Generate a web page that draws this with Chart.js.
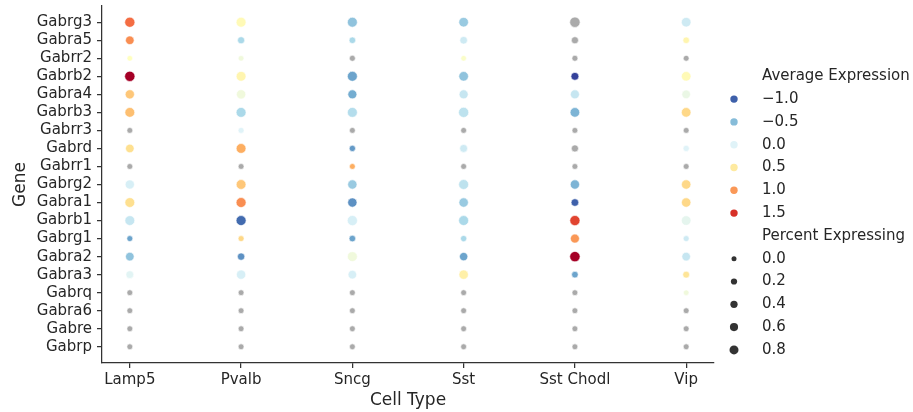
<!DOCTYPE html>
<html>
<head>
<meta charset="utf-8">
<script src="https://cdn.jsdelivr.net/npm/chart.js@4.4.0/dist/chart.umd.min.js"></script>
<style>
  html, body { margin: 0; padding: 0; background: #ffffff; }
  #wrap { width: 913px; height: 412px; position: relative; }
</style>
</head>
<body>
<div id="wrap"><canvas id="c" width="913" height="412"></canvas></div>
<script>
// ---------------- data ----------------
const cellTypes = ['Lamp5', 'Pvalb', 'Sncg', 'Sst', 'Sst Chodl', 'Vip'];
const genes = ['Gabrg3', 'Gabra5', 'Gabrr2', 'Gabrb2', 'Gabra4', 'Gabrb3', 'Gabrr3', 'Gabrd', 'Gabrr1',
               'Gabrg2', 'Gabra1', 'Gabrb1', 'Gabrg1', 'Gabra2', 'Gabra3', 'Gabrq', 'Gabra6', 'Gabre', 'Gabrp'];

// Average expression (null = no value, drawn grey), one array per cell type, in gene order
const exprLamp5    = [1.2, 1.05, 0.3, 1.8, 0.75, 0.8, null, 0.6, null, -0.05, 0.6, -0.15, -0.65, -0.45, 0.02, null, null, null, null];
const exprPvalb    = [0.35, -0.3, 0.15, 0.4, 0.15, -0.3, 0.0, 0.9, null, 0.75, 1.05, -0.95, 0.65, -0.75, -0.05, null, null, null, null];
const exprSncg     = [-0.45, -0.3, null, -0.65, -0.6, -0.25, null, -0.7, 0.9, -0.4, -0.75, -0.05, -0.65, 0.15, -0.05, null, null, null, null];
const exprSst      = [-0.4, -0.1, 0.25, -0.45, -0.15, -0.2, null, -0.1, null, -0.2, -0.4, -0.3, -0.3, -0.65, 0.45, null, null, null, null];
const exprSstChodl = [null, null, null, -1.15, -0.15, -0.55, null, null, null, -0.55, -1.0, 1.4, 1.0, 1.8, -0.65, null, null, null, null];
const exprVip      = [-0.1, 0.4, null, 0.35, 0.1, 0.65, null, 0.0, null, 0.65, 0.65, 0.05, -0.1, -0.15, 0.55, 0.15, null, null, null];

// Percent expressing, one array per cell type, in gene order
const pctLamp5    = [0.95, 0.55, 0.0, 0.98, 0.7, 0.85, 0.03, 0.55, 0.03, 0.7, 0.85, 0.85, 0.05, 0.55, 0.4, 0.03, 0.03, 0.03, 0.03];
const pctPvalb    = [0.88, 0.25, 0.0, 0.85, 0.72, 0.88, 0.05, 0.85, 0.03, 0.85, 0.9, 0.9, 0.05, 0.3, 0.72, 0.03, 0.03, 0.03, 0.03];
const pctSncg     = [0.88, 0.15, 0.05, 0.88, 0.65, 0.88, 0.03, 0.1, 0.03, 0.72, 0.72, 0.95, 0.15, 0.88, 0.55, 0.03, 0.03, 0.03, 0.03];
const pctSst      = [0.8, 0.35, 0.0, 0.8, 0.65, 0.95, 0.03, 0.4, 0.03, 0.88, 0.75, 0.88, 0.1, 0.5, 0.75, 0.03, 0.03, 0.03, 0.03];
const pctSstChodl = [1.0, 0.25, 0.05, 0.4, 0.65, 0.8, 0.03, 0.25, 0.03, 0.72, 0.35, 0.95, 0.65, 1.0, 0.15, 0.03, 0.03, 0.03, 0.03];
const pctVip      = [0.8, 0.15, 0.03, 0.8, 0.55, 0.8, 0.03, 0.1, 0.03, 0.75, 0.75, 0.8, 0.05, 0.55, 0.2, 0.0, 0.03, 0.03, 0.03];

// legend tick values
const hueLegendValues  = [-1.0, -0.5, 0.0, 0.5, 1.0, 1.5];
const sizeLegendValues = [0.0, 0.2, 0.4, 0.6, 0.8];
const hueLegendTitle  = 'Average Expression';
const sizeLegendTitle = 'Percent Expressing';
const xTitle = 'Cell Type';
const yTitle = 'Gene';

// ---------------- mapping helpers ----------------
const exprByType = [exprLamp5, exprPvalb, exprSncg, exprSst, exprSstChodl, exprVip];
const pctByType  = [pctLamp5, pctPvalb, pctSncg, pctSst, pctSstChodl, pctVip];

const HUE_MIN = -1.2, HUE_MAX = 1.8;
const RDYLBU_R = ['#313695', '#4575b4', '#74add1', '#abd9e9', '#e0f3f8', '#ffffbf',
                  '#fee090', '#fdae61', '#f46d43', '#d73027', '#a50026'];
function hexToRgb(h) { return [parseInt(h.substr(1,2),16), parseInt(h.substr(3,2),16), parseInt(h.substr(5,2),16)]; }
const CMAP = RDYLBU_R.map(hexToRgb);
function colorFor(v) {
  if (v === null || v === undefined) return '#aaaaaa';
  let t = (v - HUE_MIN) / (HUE_MAX - HUE_MIN);
  t = Math.max(0, Math.min(1, t));
  const pos = t * (CMAP.length - 1);
  const i = Math.min(Math.floor(pos), CMAP.length - 2);
  const f = pos - i;
  const a = CMAP[i], b = CMAP[i + 1];
  const c = a.map((ai, k) => Math.round(ai + (b[k] - ai) * f));
  return 'rgb(' + c.join(',') + ')';
}
function radiusFor(p) { return Math.sqrt(25 + 70 * p) / 2 + 0.3; }

const points = [];
exprByType.forEach((arr, xi) => {
  arr.forEach((v, yi) => {
    points.push({ x: xi, y: yi, expr: v, pct: pctByType[xi][yi] });
  });
});

const FONT = "'DejaVu Sans', sans-serif";
const TEXT = '#262626';
const AXIS = '#333333';

// ---------------- legend plugin ----------------
const legendPlugin = {
  id: 'dotLegend',
  afterDraw(chart) {
    const ctx = chart.ctx;
    const mx = 734, tx = 762;
    let y = 76.3;
    const step = 22.8;
    ctx.save();
    ctx.font = '15px ' + FONT;
    ctx.fillStyle = TEXT;
    ctx.textBaseline = 'middle';
    ctx.textAlign = 'left';
    const fmt = v => v.toFixed(1).replace('-', '\u2212');
    ctx.fillText(hueLegendTitle, tx, y);
    y += step;
    hueLegendValues.forEach(v => {
      ctx.beginPath();
      ctx.arc(mx, y, 3.7, 0, Math.PI * 2);
      ctx.fillStyle = colorFor(v);
      ctx.fill();
      ctx.fillStyle = TEXT;
      ctx.fillText(fmt(v), tx, y);
      y += step;
    });
    ctx.fillText(sizeLegendTitle, tx, y);
    y += step;
    sizeLegendValues.forEach(p => {
      ctx.beginPath();
      ctx.arc(mx, y, radiusFor(p) - 0.3, 0, Math.PI * 2);
      ctx.fillStyle = '#333333';
      ctx.fill();
      ctx.fillStyle = TEXT;
      ctx.fillText(fmt(p), tx, y);
      y += step;
    });
    ctx.restore();
  }
};

// ---------------- chart ----------------
new Chart(document.getElementById('c'), {
  type: 'scatter',
  data: {
    datasets: [{
      data: points,
      pointRadius: c => c.raw ? radiusFor(c.raw.pct) : 3,
      pointHoverRadius: c => c.raw ? radiusFor(c.raw.pct) : 3,
      pointBackgroundColor: c => c.raw ? colorFor(c.raw.expr) : '#aaa',
      pointBorderColor: '#ffffff',
      pointBorderWidth: 0.6
    }]
  },
  options: {
    responsive: false,
    animation: false,
    devicePixelRatio: 1,
    layout: { padding: { left: 6, right: 199, top: 6, bottom: 0 } },
    plugins: { legend: { display: false }, tooltip: { enabled: false } },
    scales: {
      x: {
        type: 'linear',
        min: -0.25, max: 5.25,
        afterBuildTicks: s => { s.ticks = cellTypes.map((_, i) => ({ value: i })); },
        afterFit: s => { s.height = 49; s.paddingLeft = 0; s.paddingRight = 0; },
        ticks: {
          autoSkip: false, maxRotation: 0, padding: 3,
          color: TEXT, font: { family: FONT, size: 15 },
          callback: v => cellTypes[v]
        },
        grid: { drawOnChartArea: false, drawTicks: true, tickLength: 5, color: AXIS, lineWidth: 1.25 },
        border: { display: true, color: AXIS, width: 1.25 },
        title: { display: true, text: xTitle, color: TEXT, font: { family: FONT, size: 17 }, padding: { top: 2, bottom: 1 } }
      },
      y: {
        type: 'linear',
        reverse: true,
        min: -0.9, max: 18.9,
        afterBuildTicks: s => { s.ticks = genes.map((_, i) => ({ value: i })); },
        afterFit: s => { s.width = 96; s.paddingTop = 0; s.paddingBottom = 0; },
        ticks: {
          autoSkip: false, padding: 5,
          color: TEXT, font: { family: FONT, size: 15 },
          callback: v => genes[v]
        },
        grid: { drawOnChartArea: false, drawTicks: true, tickLength: 5, color: AXIS, lineWidth: 1.25 },
        border: { display: true, color: AXIS, width: 1.25 },
        title: { display: true, text: yTitle, color: TEXT, font: { family: FONT, size: 17 }, padding: { top: 4, bottom: 4 } }
      }
    }
  },
  plugins: [legendPlugin]
});
</script>
</body>
</html>
